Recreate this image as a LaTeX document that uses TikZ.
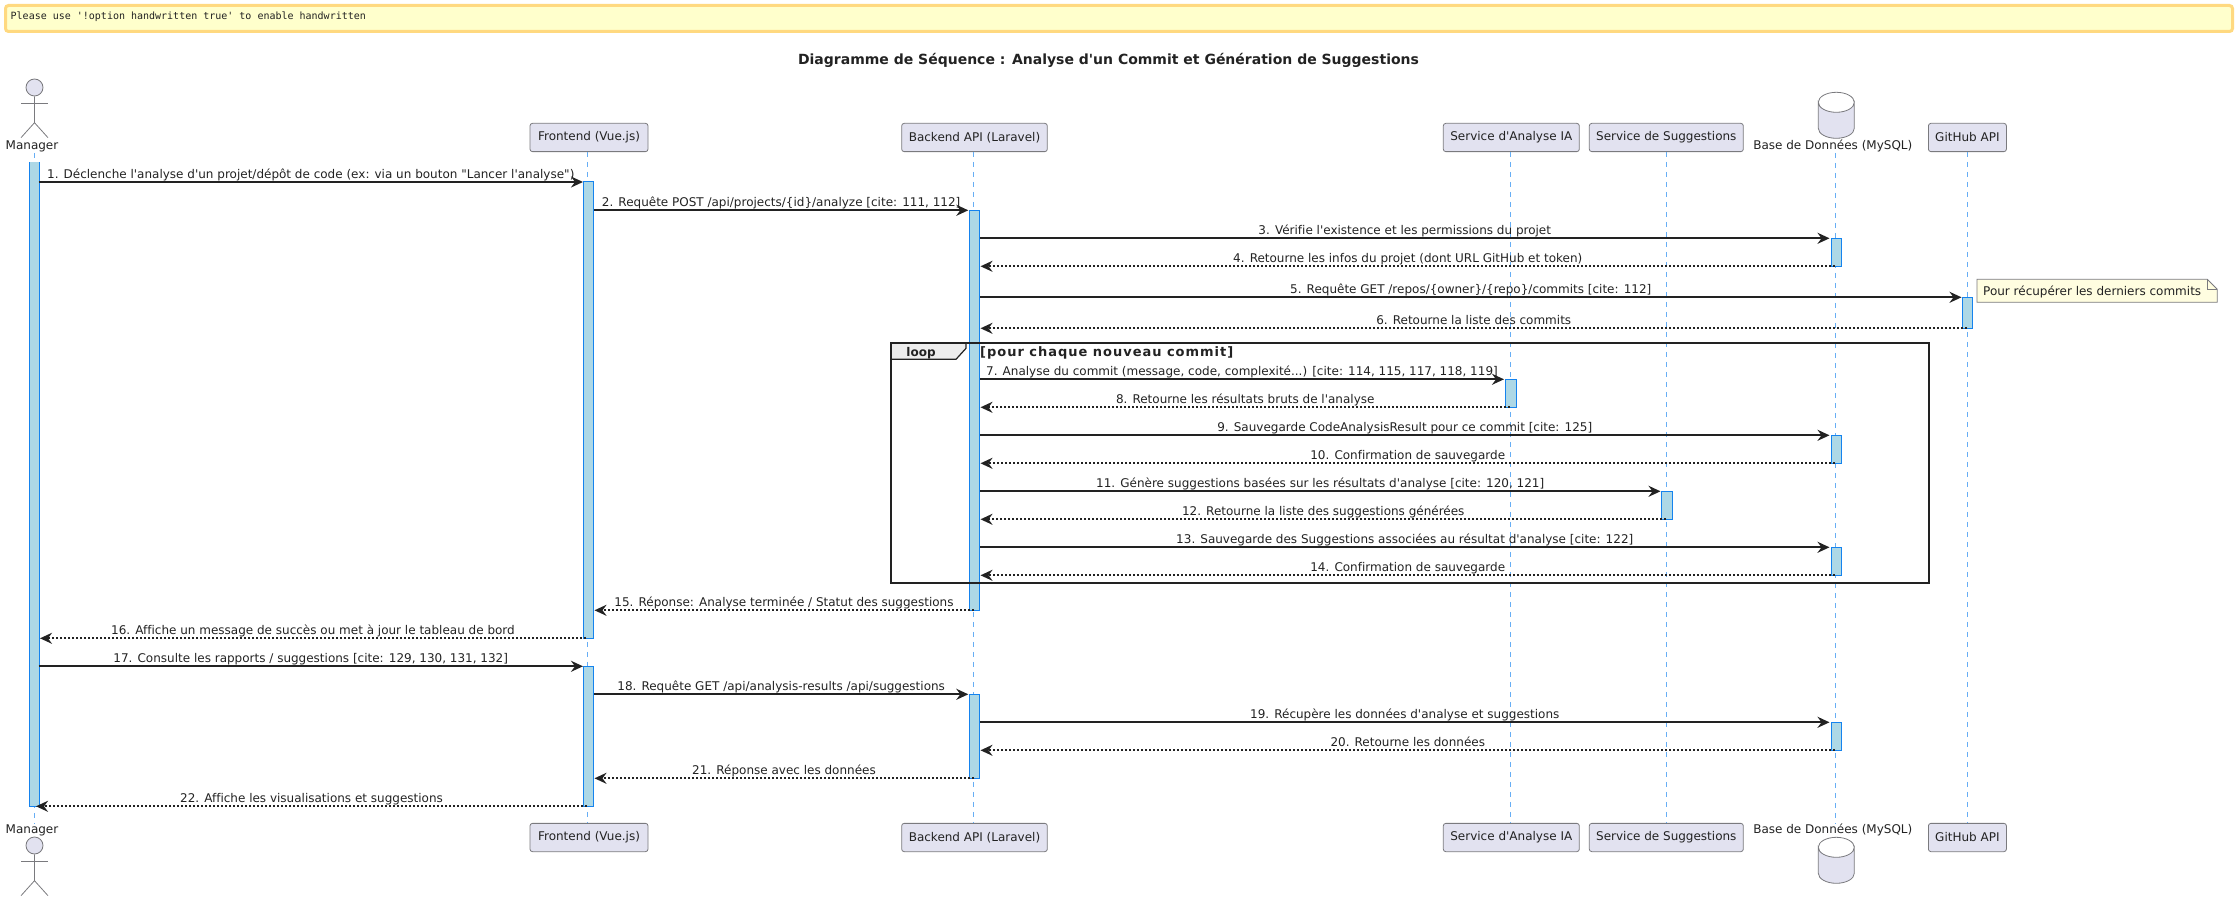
\documentclass[tikz,border=0pt]{standalone}
\usepackage{fontspec}
\setmainfont{DejaVu Sans}[Ligatures={TeXOff,CommonOff}]
\newfontfamily\bannerfont{DejaVu Sans Mono}
\newfontfamily\guardfont{DejaVu Sans Bold}[LetterSpace=7.5,Ligatures={TeXOff,CommonOff}]
\usetikzlibrary{arrows.meta}
\definecolor{partfill}{HTML}{E2E2F0}
\definecolor{partline}{HTML}{7A7A7E}
\definecolor{lifecol}{HTML}{66AEF5}
\definecolor{actfill}{HTML}{ADD8E6}
\definecolor{actline}{HTML}{1583EE}
\definecolor{inkdark}{HTML}{222222}
\definecolor{bannerline}{HTML}{FFD980}
\definecolor{bannerfill}{HTML}{FFFFCC}
\tikzset{
  txt/.style={font=\fontsize{12}{14}\selectfont,text=inkdark,inner sep=0pt},
  partbox/.style={txt,draw=partline,fill=partfill,line width=0.8pt,rounded corners=2.5pt,minimum height=28.3pt},
  partlabel/.style={txt},
  actorshape/.style={draw=partline,line width=0.8pt},
  actorhead/.style={draw=partline,fill=partfill,line width=0.8pt},
  life/.style={draw=lifecol,line width=1pt,dash pattern=on 5pt off 5pt},
  actbar/.style={draw=actline,fill=actfill,line width=1pt},
  syncmsg/.style={draw=inkdark,line width=2pt,-{Stealth[length=12pt,width=11pt,inset=4pt]}},
  retmsg/.style={draw=inkdark,line width=2pt,dash pattern=on 2pt off 2pt,-{Stealth[length=12pt,width=11pt,inset=4pt]}},
  msglabel/.style={txt,midway,anchor=base,yshift=3.9pt},
  frameline/.style={draw=inkdark,line width=2pt},
  notebody/.style={draw=partline,fill=yellow!12!white,line width=0.8pt},
}
\begin{document}
\begin{tikzpicture}[x=1pt,y=-1pt]
\useasboundingbox (0,0) rectangle (2238,901);

% warning banner
\node[draw=bannerline,fill=bannerfill,line width=3pt,rounded corners=3pt,minimum width=2227pt,minimum height=26pt,inner sep=0pt] (banner) at (1119,18.5) {};
\node[anchor=west,inner sep=0pt,text=inkdark,font=\bannerfont\fontsize{10}{12}\selectfont] (bannertext) at (10.5,16.5) {Please use '!option handwritten true' to enable handwritten};

% title
\node[txt,font=\bfseries\fontsize{14}{16}\selectfont] (title) at (1108.5,60) {Diagramme de Séquence : Analyse d'un Commit et Génération de Suggestions};

% participants, top
\node[partbox,minimum width=118pt] (feT) at (589,137.5) {Frontend (Vue.js)};
\node[partbox,minimum width=145.6pt] (beT) at (974.5,137.5) {Backend API (Laravel)};
\node[partbox,minimum width=136pt] (iaT) at (1511.3,137.5) {Service d'Analyse IA};
\node[partbox,minimum width=154pt] (sgT) at (1666.3,137.5) {Service de Suggestions};
\node[partbox,minimum width=78pt] (ghT) at (1967.4,137.5) {GitHub API};
% participants, bottom
\node[partbox,minimum width=118pt] (feB) at (589,837.5) {Frontend (Vue.js)};
\node[partbox,minimum width=145.6pt] (beB) at (974.5,837.5) {Backend API (Laravel)};
\node[partbox,minimum width=136pt] (iaB) at (1511.3,837.5) {Service d'Analyse IA};
\node[partbox,minimum width=154pt] (sgB) at (1666.3,837.5) {Service de Suggestions};
\node[partbox,minimum width=78pt] (ghB) at (1967.4,837.5) {GitHub API};

% actor, top
\node[actorhead,circle,minimum size=17pt,inner sep=0pt] (mgrHeadT) at (34.5,87.5) {};
\draw[actorshape] (mgrHeadT.south) -- (34.5,122.7) -- (21,137.7);
\draw[actorshape] (34.5,122.7) -- (48,137.7);
\draw[actorshape] (21,103.3) -- (48,103.3);
\node[partlabel] (mgrT) at (32,146) {Manager};
% actor, bottom
\node[actorhead,circle,minimum size=17pt,inner sep=0pt] (mgrHeadB) at (34.5,845.5) {};
\draw[actorshape] (mgrHeadB.south) -- (34.5,880.7) -- (21,895.7);
\draw[actorshape] (34.5,880.7) -- (48,895.7);
\draw[actorshape] (21,861.3) -- (48,861.3);
\node[partlabel] (mgrB) at (32,830) {Manager};

% database, top
\draw[actorhead] (1818.3,102.3) arc[start angle=180,end angle=0,x radius=18,y radius=10]
  -- (1854.3,128.3) arc[start angle=0,end angle=180,x radius=18,y radius=10] -- cycle;
\draw[actorshape] (1818.3,102.3) arc[start angle=180,end angle=360,x radius=18,y radius=10];
\node[partlabel] (dbT) at (1832.8,146) {Base de Données (MySQL)};
% database, bottom
\draw[actorhead] (1818.3,847.3) arc[start angle=180,end angle=0,x radius=18,y radius=10]
  -- (1854.3,873.3) arc[start angle=0,end angle=180,x radius=18,y radius=10] -- cycle;
\draw[actorshape] (1818.3,847.3) arc[start angle=180,end angle=360,x radius=18,y radius=10];
\node[partlabel] (dbB) at (1832.8,830) {Base de Données (MySQL)};

% lifelines
\coordinate (lifeMa) at (34.5,153);   \coordinate (lifeMb) at (34.5,823.3);
\coordinate (lifeFa) at (587.7,151.8);\coordinate (lifeFb) at (587.7,823.3);
\coordinate (lifeBa) at (973.7,151.8);\coordinate (lifeBb) at (973.7,823.3);
\coordinate (lifeIa) at (1510.3,151.8);\coordinate (lifeIb) at (1510.3,823.3);
\coordinate (lifeSa) at (1666.3,151.8);\coordinate (lifeSb) at (1666.3,823.3);
\coordinate (lifeDa) at (1835.3,153); \coordinate (lifeDb) at (1835.3,823.3);
\coordinate (lifeGa) at (1967.4,151.8);\coordinate (lifeGb) at (1967.4,823.3);
\draw[life] (lifeMa) -- (lifeMb);
\draw[life] (lifeFa) -- (lifeFb);
\draw[life] (lifeBa) -- (lifeBb);
\draw[life] (lifeIa) -- (lifeIb);
\draw[life] (lifeSa) -- (lifeSb);
\draw[life] (lifeDa) -- (lifeDb);
\draw[life] (lifeGa) -- (lifeGb);

% activation bars
\fill[actfill] (29.5,162.5) rectangle (39.7,806.6);
\draw[actbar,fill=none] (29.5,162.5) -- (29.5,806.6) -- (39.7,806.6) -- (39.7,162.5);
\draw[actbar] (583.5,182) rectangle (593.7,638.4);
\draw[actbar] (583.5,666.3) rectangle (593.7,806.6);
\draw[actbar] (969.3,210.2) rectangle (979.7,610.4);
\draw[actbar] (969.3,694.3) rectangle (979.7,778.4);
\draw[actbar] (1831,238.3) rectangle (1841.5,266.4);
\draw[actbar] (1831,435.3) rectangle (1841.5,463.4);
\draw[actbar] (1831,547.3) rectangle (1841.5,575.4);
\draw[actbar] (1831,722.3) rectangle (1841.5,750.4);
\draw[actbar] (1962.6,297.3) rectangle (1972.8,328.4);
\draw[actbar] (1505.8,379.3) rectangle (1516.3,407.4);
\draw[actbar] (1661.8,491.3) rectangle (1672.2,519.4);

% note
\draw[notebody] (1977,279.3) -- (2207.3,279.3) -- (2217.3,289.3) -- (2217.3,302.3) -- (1977,302.3) -- cycle;
\draw[notebody,fill=none] (2207.3,279.3) -- (2207.3,289.3) -- (2217.3,289.3);
\node[txt,anchor=base west] (notetext) at (1983,295.5) {Pour récupérer les derniers commits};

% messages
\coordinate (m1a) at (38.5,182);    \coordinate (m1b) at (583,182);
\draw[syncmsg] (m1a) -- node[msglabel] {1. Déclenche l'analyse d'un projet/dépôt de code (ex: via un bouton "Lancer l'analyse")} (m1b);
\coordinate (m2a) at (594,210.3);   \coordinate (m2b) at (968.3,210.3);
\draw[syncmsg] (m2a) -- node[msglabel] {2. Requête POST /api/projects/\{id\}/analyze [cite: 111, 112]} (m2b);
\coordinate (m3a) at (980,238.3);   \coordinate (m3b) at (1829.5,238.3);
\draw[syncmsg] (m3a) -- node[msglabel] {3. Vérifie l'existence et les permissions du projet} (m3b);
\coordinate (m4a) at (1835,266.3);  \coordinate (m4b) at (980.5,266.3);
\draw[retmsg] (m4a) -- node[msglabel] {4. Retourne les infos du projet (dont URL GitHub et token)} (m4b);
\coordinate (m5a) at (980,297.3);   \coordinate (m5b) at (1961.5,297.3);
\draw[syncmsg] (m5a) -- node[msglabel] {5. Requête GET /repos/\{owner\}/\{repo\}/commits [cite: 112]} (m5b);
\coordinate (m6a) at (1967,328.3);  \coordinate (m6b) at (980.5,328.3);
\draw[retmsg] (m6a) -- node[msglabel] {6. Retourne la liste des commits} (m6b);
\coordinate (m7a) at (980,379.3);   \coordinate (m7b) at (1504,379.3);
\draw[syncmsg] (m7a) -- node[msglabel] {7. Analyse du commit (message, code, complexité...) [cite: 114, 115, 117, 118, 119]} (m7b);
\coordinate (m8a) at (1510,407.3);  \coordinate (m8b) at (980.5,407.3);
\draw[retmsg] (m8a) -- node[msglabel] {8. Retourne les résultats bruts de l'analyse} (m8b);
\coordinate (m9a) at (980,435.3);   \coordinate (m9b) at (1829.5,435.3);
\draw[syncmsg] (m9a) -- node[msglabel] {9. Sauvegarde CodeAnalysisResult pour ce commit [cite: 125]} (m9b);
\coordinate (m10a) at (1835,463.3); \coordinate (m10b) at (980.5,463.3);
\draw[retmsg] (m10a) -- node[msglabel] {10. Confirmation de sauvegarde} (m10b);
\coordinate (m11a) at (980,491.3);  \coordinate (m11b) at (1660.5,491.3);
\draw[syncmsg] (m11a) -- node[msglabel] {11. Génère suggestions basées sur les résultats d'analyse [cite: 120, 121]} (m11b);
\coordinate (m12a) at (1666,519.3); \coordinate (m12b) at (980.5,519.3);
\draw[retmsg] (m12a) -- node[msglabel] {12. Retourne la liste des suggestions générées} (m12b);
\coordinate (m13a) at (980,547.3);  \coordinate (m13b) at (1829.5,547.3);
\draw[syncmsg] (m13a) -- node[msglabel] {13. Sauvegarde des Suggestions associées au résultat d'analyse [cite: 122]} (m13b);
\coordinate (m14a) at (1835,575.3); \coordinate (m14b) at (980.5,575.3);
\draw[retmsg] (m14a) -- node[msglabel] {14. Confirmation de sauvegarde} (m14b);
\coordinate (m15a) at (973.5,610.3);\coordinate (m15b) at (594.5,610.3);
\draw[retmsg] (m15a) -- node[msglabel] {15. Réponse: Analyse terminée / Statut des suggestions} (m15b);
\coordinate (m16a) at (586,638.3);  \coordinate (m16b) at (40,638.3);
\draw[retmsg] (m16a) -- node[msglabel] {16. Affiche un message de succès ou met à jour le tableau de bord} (m16b);
\coordinate (m17a) at (38.5,666.3); \coordinate (m17b) at (583,666.3);
\draw[syncmsg] (m17a) -- node[msglabel] {17. Consulte les rapports / suggestions [cite: 129, 130, 131, 132]} (m17b);
\coordinate (m18a) at (594,694.3);  \coordinate (m18b) at (968.3,694.3);
\draw[syncmsg] (m18a) -- node[msglabel] {18. Requête GET /api/analysis-results /api/suggestions} (m18b);
\coordinate (m19a) at (980,722.3);  \coordinate (m19b) at (1829.5,722.3);
\draw[syncmsg] (m19a) -- node[msglabel] {19. Récupère les données d'analyse et suggestions} (m19b);
\coordinate (m20a) at (1835,750.3); \coordinate (m20b) at (980.5,750.3);
\draw[retmsg] (m20a) -- node[msglabel] {20. Retourne les données} (m20b);
\coordinate (m21a) at (973.5,778.3);\coordinate (m21b) at (594.5,778.3);
\draw[retmsg] (m21a) -- node[msglabel] {21. Réponse avec les données} (m21b);
\coordinate (m22a) at (587,806.3);  \coordinate (m22b) at (36,806.3);
\draw[retmsg] (m22a) -- node[msglabel] {22. Affiche les visualisations et suggestions} (m22b);

% loop frame
\draw[frameline] (891.3,343.3) rectangle (1928.7,583.2);
\draw[draw=inkdark,fill=black!7,line width=1.2pt] (891.3,343.3) -- (966,343.3) -- (966,348.3) -- (956,359.3) -- (891.3,359.3) -- cycle;
\node[txt,font=\bfseries\fontsize{12}{14}\selectfont,anchor=base] (looplabel) at (921,356) {loop};
\node[txt,font=\guardfont\fontsize{13}{15}\selectfont,anchor=base west] (loopguard) at (980,356.5) {[pour chaque nouveau commit]};
\end{tikzpicture}
\end{document}
